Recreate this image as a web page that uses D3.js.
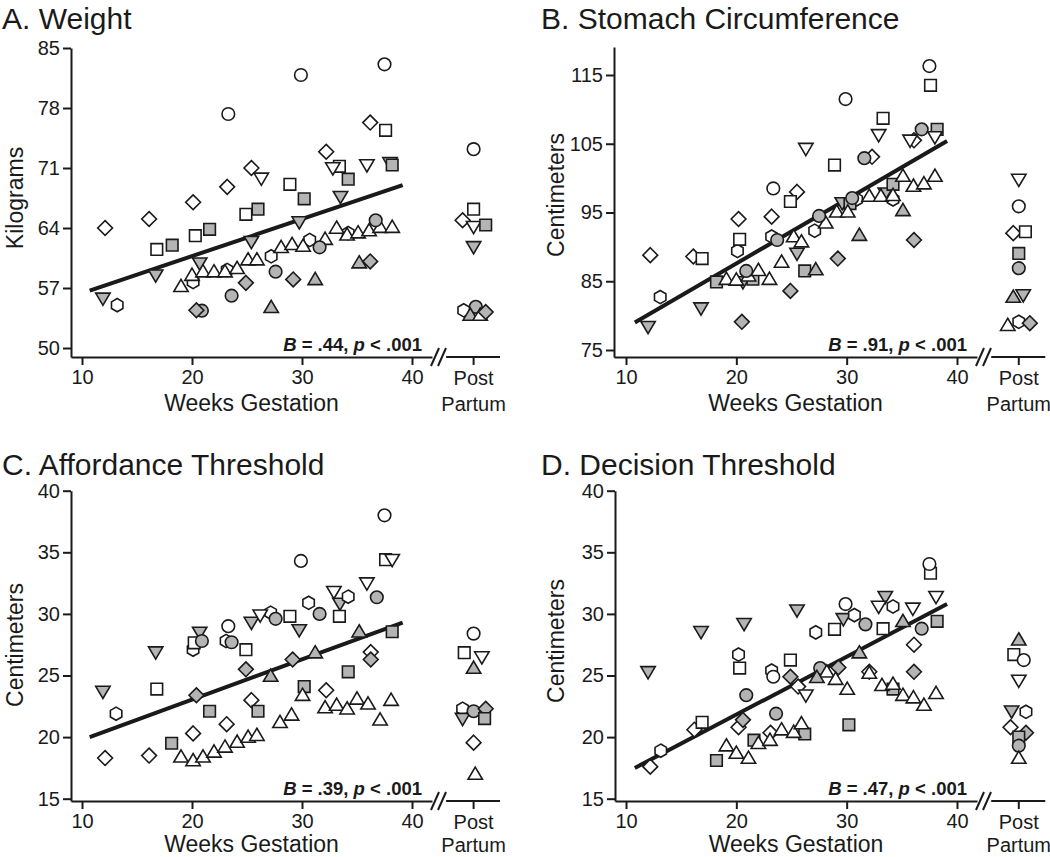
<!DOCTYPE html>
<html><head><meta charset="utf-8">
<script src="https://cdn.jsdelivr.net/npm/d3@7"></script>
<style>
body{margin:0;background:#fff}
svg{display:block}
text{font-family:"Liberation Sans",Arial,sans-serif;fill:#1a1a1a}
</style>
</head><body>
<svg id="chart" width="1050" height="857"></svg>
<script>
// ---------------- DATA ----------------
// Participant marker codes: o=open, g=gray; c=circle, s=square, d=diamond, t=triangle up, v=triangle down, h=hexagon
const xTicks = [10, 20, 30, 40];
const weightTicks = [50, 57, 64, 71, 78, 85];
const stomachTicks = [75, 85, 95, 105, 115];
const thresholdTicks = [15, 20, 25, 30, 35, 40];
const ppLabel = ["Post", "Partum"];
const xTitle = "Weeks Gestation";
const titles = ["A. Weight", "B. Stomach Circumference", "C. Affordance Threshold", "D. Decision Threshold"];
const yTitles = ["Kilograms", "Centimeters", "Centimeters", "Centimeters"];
const statsB = [".44", ".91", ".39", ".47"];

// [participant, weeks gestation, value]
const weightPts = [
 ["od",12.1,64.0],["od",16.1,65.05],["od",20.1,67.0],["od",23.2,68.8],["od",25.4,71.0],["od",32.2,72.9],["od",36.2,76.3],
 ["oc",23.3,77.3],["oc",29.9,81.85],["oc",37.5,83.1],
 ["os",16.8,61.5],["os",20.3,63.1],["os",24.9,65.6],["os",28.9,69.1],["os",33.4,71.2],["os",37.6,75.4],
 ["ov",26.3,69.8],["ov",32.8,71.0],["ov",35.9,71.35],["ov",38.0,71.6],
 ["gs",18.2,62.0],["gs",21.6,63.85],["gs",26.0,66.2],["gs",30.2,67.4],["gs",34.2,69.7],["gs",38.2,71.35],
 ["gv",11.9,55.8],["gv",16.7,58.5],["gv",20.7,59.9],["gv",25.4,62.4],["gv",29.75,64.7],["gv",33.5,67.65],
 ["oh",13.2,55.0],["oh",20.1,57.7],["oh",23.2,59.1],["oh",27.2,60.7],["oh",30.7,62.6],["oh",34.2,63.4],
 ["ot",19.0,57.2],["ot",20.0,58.5],["ot",21.0,58.9],["ot",22.0,58.9],["ot",23.0,58.9],["ot",24.1,59.3],["ot",25.1,60.3],["ot",25.9,60.3],
 ["ot",28.1,61.75],["ot",29.1,62.1],["ot",30.1,61.9],["ot",32.1,62.7],["ot",33.15,64.0],["ot",34.1,63.2],["ot",35.1,63.45],["ot",36.1,63.7],["ot",37.1,64.1],["ot",38.2,64.1],
 ["gt",27.2,54.75],["gt",31.2,58.0],["gt",35.2,59.95],
 ["gc",20.9,54.35],["gc",23.6,56.1],["gc",27.6,58.9],["gc",31.6,61.75],["gc",36.7,64.9],
 ["gd",20.4,54.4],["gd",24.9,57.6],["gd",29.2,58.0],["gd",36.2,60.1]
];
// [participant, value, jitter in weeks]
const weightPP = [
 ["oc",73.2,0],["os",66.2,0],["od",64.9,-1],["ov",64.15,0],["gs",64.35,1.1],["gv",61.8,0],
 ["oh",54.4,-0.9],["gc",54.8,0.2],["gt",53.85,-0.3],["ot",53.85,0.6],["gd",54.2,1.1]
];
const weightFit = [[10.7,56.7],[39.15,69.0]];

const stomachPts = [
 ["od",12.2,88.8],["od",16.1,88.6],["od",20.2,94.05],["od",23.2,94.4],["od",25.5,98.0],["od",32.3,103.1],["od",36.1,105.5],
 ["oh",13.1,82.7],["oh",20.1,89.4],["oh",23.2,91.5],["oh",27.1,92.35],["oh",30.9,96.9],["oh",34.2,96.9],
 ["gv",12.0,78.4],["gv",16.8,81.1],["gv",20.6,84.9],["gv",25.5,89.05],["gv",29.6,96.4],["gv",33.5,97.8],
 ["os",16.9,88.3],["os",20.3,91.1],["os",24.9,96.6],["os",28.9,101.9],["os",33.3,108.7],["os",37.6,113.5],
 ["gs",18.2,84.9],["gs",21.5,85.3],["gs",26.2,86.5],["gs",30.3,96.3],["gs",34.2,99.1],["gs",38.2,107.1],
 ["ot",19.1,85.3],["ot",20.0,85.2],["ot",21.1,85.8],["ot",22.0,86.6],["ot",23.0,85.3],["ot",24.1,87.8],["ot",25.2,91.5],["ot",25.9,90.75],
 ["ot",28.1,93.5],["ot",29.1,95.1],["ot",30.1,95.1],["ot",32.05,97.4],["ot",33.1,97.4],["ot",34.2,97.5],["ot",35.1,100.3],["ot",36.05,98.85],["ot",37.0,99.2],["ot",38.0,100.3],
 ["gc",20.9,86.5],["gc",23.7,91.0],["gc",27.5,94.5],["gc",30.5,97.1],["gc",31.6,102.9],["gc",36.8,107.1],
 ["gd",20.5,79.1],["gd",24.9,83.6],["gd",29.2,88.3],["gd",36.1,91.0],
 ["oc",23.35,98.5],["oc",29.9,111.5],["oc",37.5,116.3],
 ["ov",26.3,104.3],["ov",32.9,106.3],["ov",35.75,105.5],["ov",38.0,106.0],
 ["gt",27.2,86.7],["gt",31.15,91.7],["gt",35.1,95.3]
];
const stomachPP = [
 ["ov",99.8,0],["oc",95.9,0],["od",92.0,-0.5],["os",92.2,0.6],["gs",89.05,0],["gc",86.9,0],
 ["gt",82.7,-0.5],["gv",83.0,0.4],["ot",78.6,-1],["oh",79.1,0],["gd",78.9,1]
];
const stomachFit = [[10.8,79.0],[39.1,105.4]];

const affordPts = [
 ["gv",11.9,23.7],["gv",16.7,26.9],["gv",20.7,28.5],["gv",25.4,29.3],["gv",29.75,28.7],["gv",33.45,30.85],
 ["oh",13.1,21.9],["oh",20.1,27.1],["oh",23.1,27.8],["oh",27.15,30.1],["oh",30.6,30.9],["oh",34.2,31.4],
 ["od",12.1,18.3],["od",16.1,18.5],["od",20.1,20.3],["od",23.15,21.05],["od",25.4,23.0],["od",32.2,23.8],["od",36.25,26.9],
 ["os",16.8,23.9],["os",20.2,27.65],["os",24.9,27.1],["os",28.9,29.8],["os",33.4,29.8],["os",37.6,34.4],
 ["gs",18.15,19.5],["gs",21.6,22.1],["gs",26.0,22.1],["gs",30.2,24.1],["gs",34.2,25.3],["gs",38.2,28.55],
 ["ot",19.0,18.4],["ot",20.1,18.1],["ot",21.0,18.4],["ot",22.0,18.8],["ot",23.0,19.2],["ot",24.1,19.6],["ot",25.1,20.0],["ot",25.9,20.15],
 ["ot",28.0,21.2],["ot",29.05,21.8],["ot",30.05,23.4],["ot",32.1,22.4],["ot",33.15,22.6],["ot",34.1,22.3],["ot",35.0,23.1],["ot",36.0,22.7],["ot",37.1,21.4],["ot",38.1,23.0],
 ["gd",20.4,23.4],["gd",24.9,25.5],["gd",29.15,26.3],["gd",36.25,26.3],
 ["gc",20.9,27.8],["gc",23.6,27.7],["gc",27.6,29.6],["gc",31.6,30.0],["gc",36.8,31.35],
 ["oc",23.3,29.0],["oc",29.9,34.3],["oc",37.5,38.0],
 ["ov",26.2,29.9],["ov",32.9,31.8],["ov",35.9,32.5],["ov",38.2,34.4],
 ["gt",27.15,24.95],["gt",31.2,26.85],["gt",35.2,28.55]
];
const affordPP = [
 ["oc",28.4,0],["os",26.85,-0.85],["ov",26.5,0.75],["gt",25.6,0],["oh",22.3,-1],["gv",21.5,-1],
 ["gc",22.1,0],["gd",22.3,1.1],["gs",21.5,1],["od",19.55,0],["ot",17.0,0.15]
];
const affordFit = [[10.7,20.0],[39.15,29.3]];

const decisionPts = [
 ["gv",12.0,25.3],["gv",16.8,28.55],["gv",20.7,29.2],["gv",25.5,30.3],["gv",29.7,29.6],["gv",33.5,31.4],
 ["od",12.2,17.6],["od",16.2,20.6],["od",20.2,20.8],["od",23.1,20.35],["od",25.6,24.1],["od",32.05,25.3],["od",36.1,27.5],
 ["oh",13.15,18.9],["oh",20.2,26.7],["oh",23.2,25.4],["oh",27.2,28.5],["oh",30.7,29.9],["oh",34.2,30.6],
 ["os",16.9,21.2],["os",20.3,25.6],["os",24.9,26.25],["os",28.9,28.75],["os",33.3,28.8],["os",37.6,33.3],
 ["gc",20.9,23.4],["gc",23.6,21.9],["gc",27.6,25.6],["gc",31.7,29.15],["gc",36.8,28.8],
 ["gd",20.6,21.4],["gd",24.9,24.9],["gd",29.25,25.65],["gd",36.1,25.3],
 ["gs",18.2,18.1],["gs",21.6,19.75],["gs",26.2,20.25],["gs",30.2,21.0],["gs",34.2,23.9],["gs",38.2,29.4],
 ["ot",19.1,19.3],["ot",20.0,18.7],["ot",21.1,18.3],["ot",22.0,19.5],["ot",23.05,19.75],["ot",24.1,20.6],["ot",25.2,20.4],["ot",25.9,21.1],
 ["ot",28.2,25.3],["ot",29.0,24.7],["ot",30.05,23.9],["ot",32.05,25.2],["ot",33.2,24.2],["ot",34.2,24.3],["ot",35.1,23.4],["ot",36.05,23.2],["ot",37.0,22.6],["ot",38.1,23.55],
 ["oc",23.35,24.9],["oc",29.9,30.8],["oc",37.5,34.05],
 ["ov",26.3,23.4],["ov",32.9,30.6],["ov",36.0,30.45],["ov",38.1,31.4],
 ["gt",27.3,24.85],["gt",31.15,26.85],["gt",35.1,29.4]
];
const decisionPP = [
 ["gt",27.9,0],["os",26.7,-0.45],["oc",26.25,0.45],["ov",24.6,0],["gv",22.1,-0.65],["oh",22.05,0.65],
 ["od",20.8,-0.75],["gd",20.35,0.65],["gs",20.0,0],["gc",19.3,0],["ot",18.3,0]
];
const decisionFit = [[10.8,17.5],[39.1,30.8]];

// ---------------- LAYOUT ----------------
const PP_WEEK = 45.6;
const panels = [
 {pts:weightPts, pp:weightPP, fit:weightFit, ticks:weightTicks, ox:71, x10:82, x40:412, axisY:357, yb:348, yt:48, topPx:48, tx:2, ty:29, ylx:23, yly:198, xtOff:54},
 {pts:stomachPts, pp:stomachPP, fit:stomachFit, ticks:stomachTicks, ox:614, x10:626, x40:957, axisY:357, yb:350, yt:75, topPx:47, tx:541, ty:29, ylx:564, yly:195, xtOff:54},
 {pts:affordPts, pp:affordPP, fit:affordFit, ticks:thresholdTicks, ox:71, x10:82, x40:412, axisY:801, yb:798.7, yt:490.7, topPx:490.7, tx:2, ty:475, ylx:23, yly:645, xtOff:51},
 {pts:decisionPts, pp:decisionPP, fit:decisionFit, ticks:thresholdTicks, ox:615, x10:626, x40:957, axisY:801, yb:798.7, yt:490.7, topPx:490.7, tx:541, ty:475, ylx:564, yly:641, xtOff:51}
];

const svg = d3.select("#chart");
const INK = "#1a1a1a", GRAY = "#b4b4b4";

function shapePath(code){
  const s = code[1], p = d3.path();
  if (s === "c") { p.arc(0,0,6.3,0,2*Math.PI); }
  else if (s === "s") { p.rect(-5.8,-5.8,11.6,11.6); }
  else if (s === "d") { p.moveTo(0,-7.4); p.lineTo(7.4,0); p.lineTo(0,7.4); p.lineTo(-7.4,0); p.closePath(); }
  else if (s === "t") { p.moveTo(0,-7); p.lineTo(7.2,5.2); p.lineTo(-7.2,5.2); p.closePath(); }
  else if (s === "v") { p.moveTo(0,7); p.lineTo(7.2,-5.2); p.lineTo(-7.2,-5.2); p.closePath(); }
  else if (s === "h") { for (let i=0;i<6;i++){ const a=Math.PI/3*i - Math.PI/2; const x=6.6*Math.cos(a), y=6.6*Math.sin(a); i?p.lineTo(x,y):p.moveTo(x,y);} p.closePath(); }
  return p.toString();
}

panels.forEach((P, i) => {
  const g = svg.append("g");
  const baseX = d3.scaleLinear().domain([10,40]).range([P.x10, P.x40]);
  const xEnd = P.x40 + 20;
  const x = d3.scaleLinear().domain([baseX.invert(P.ox), baseX.invert(xEnd)]).range([P.ox, xEnd]);
  const t0 = P.ticks[0], t1 = P.ticks[P.ticks.length-1];
  const baseY = d3.scaleLinear().domain([t0, t1]).range([P.yb, P.yt]);
  const y = d3.scaleLinear().domain([baseY.invert(P.axisY), baseY.invert(P.topPx)]).range([P.axisY, P.topPx]);

  // y axis
  const ya = g.append("g").attr("transform", `translate(${P.ox},0)`)
    .call(d3.axisLeft(y).tickValues(P.ticks).tickSize(8).tickSizeOuter(0).tickPadding(3).tickFormat(d3.format("d")));
  // x axis (left part)
  const xa = g.append("g").attr("transform", `translate(0,${P.axisY})`)
    .call(d3.axisBottom(x).tickValues(xTicks).tickSize(8).tickSizeOuter(0).tickPadding(5).tickFormat(d3.format("d")));
  [ya, xa].forEach(a => {
    a.selectAll("path.domain").attr("stroke", INK).attr("stroke-width", 2);
    a.selectAll(".tick line").attr("stroke", INK).attr("stroke-width", 2);
    a.selectAll(".tick text").attr("font-size", 20).attr("fill", INK)
      .attr("font-family", '"Liberation Sans",Arial,sans-serif');
  });

  // post-partum axis segment
  const ppx = baseX(PP_WEEK);
  g.append("line").attr("x1", baseX(43.1)).attr("x2", baseX(48)).attr("y1", P.axisY).attr("y2", P.axisY)
    .attr("stroke", INK).attr("stroke-width", 2);
  g.append("line").attr("x1", ppx).attr("x2", ppx).attr("y1", P.axisY).attr("y2", P.axisY+8)
    .attr("stroke", INK).attr("stroke-width", 2);
  // break marks
  [0, 7].forEach(d => {
    g.append("line").attr("x1", xEnd - 1 + d).attr("y1", P.axisY + 9)
      .attr("x2", xEnd + 7 + d).attr("y2", P.axisY - 9)
      .attr("stroke", INK).attr("stroke-width", 2);
  });
  g.append("text").attr("x", ppx).attr("y", P.axisY + 28).attr("text-anchor","middle").attr("font-size",20).text(ppLabel[0]);
  g.append("text").attr("x", ppx).attr("y", P.axisY + P.xtOff).attr("text-anchor","middle").attr("font-size",20).text(ppLabel[1]);

  // titles
  g.append("text").attr("x", P.tx).attr("y", P.ty).attr("font-size", 30).text(titles[i]);
  g.append("text").attr("x", (P.ox + xEnd)/2).attr("y", P.axisY + P.xtOff).attr("text-anchor","middle")
    .attr("font-size", 23).text(xTitle);
  g.append("text").attr("transform", `translate(${P.ylx},${P.yly}) rotate(-90)`)
    .attr("text-anchor","middle").attr("font-size", 23).text(yTitles[i]);

  // stats
  const st = g.append("text").attr("x", P.x40 + 10).attr("y", P.axisY - 6).attr("text-anchor","end")
    .attr("font-size", 18.5).attr("font-weight","bold");
  st.append("tspan").attr("font-style","italic").text("B");
  st.append("tspan").text(` = ${statsB[i]}, `);
  st.append("tspan").attr("font-style","italic").text("p");
  st.append("tspan").text(" < .001");

  // regression line
  g.append("path").datum(P.fit)
    .attr("d", d3.line().x(d => baseX(d[0])).y(d => y(d[1])))
    .attr("stroke", INK).attr("stroke-width", 4).attr("fill","none");

  // points
  const pts = g.append("g");
  pts.selectAll("path").data(P.pts).join("path")
    .attr("transform", d => `translate(${baseX(d[1])},${y(d[2])})`)
    .attr("d", d => shapePath(d[0]))
    .attr("fill", d => d[0][0] === "g" ? GRAY : "#fff")
    .attr("stroke", INK).attr("stroke-width", 1.6);
  const pp = g.append("g");
  pp.selectAll("path").data(P.pp).join("path")
    .attr("transform", d => `translate(${baseX(PP_WEEK + d[2])},${y(d[1])})`)
    .attr("d", d => shapePath(d[0]))
    .attr("fill", d => d[0][0] === "g" ? GRAY : "#fff")
    .attr("stroke", INK).attr("stroke-width", 1.6);
});
</script>
</body></html>
